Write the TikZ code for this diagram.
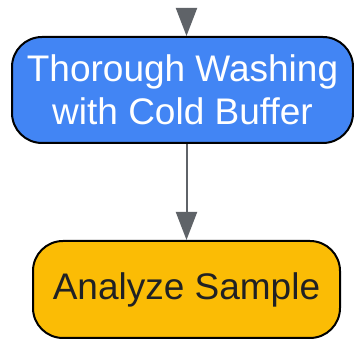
\documentclass[tikz,border=0pt]{standalone}
\usepackage{fontspec}
\setmainfont{Liberation Sans}
\usetikzlibrary{arrows.meta}

\definecolor{washblue}{HTML}{4285F4}
\definecolor{sampleyellow}{HTML}{FBBC05}
\definecolor{flowgrey}{HTML}{5F6368}
\definecolor{inkdark}{HTML}{202124}

\tikzset{
  stepbox/.style={draw=black, line width=2pt, rounded corners=30pt,
    align=center, inner sep=0pt, font=\fontsize{37}{43}\selectfont},
  flow/.style={draw=flowgrey, line width=2pt,
    -{Triangle[length=28pt,width=21pt]}}
}

\begin{document}
\begin{tikzpicture}[x=1pt,y=1pt]
\useasboundingbox (0,0) rectangle (354,339);

\node[stepbox, fill=washblue, text=white, minimum width=341, minimum height=106]
  (wash) at (182.5,249) {Thorough Washing\\with Cold Buffer};
\node[stepbox, fill=sampleyellow, text=inkdark, minimum width=307, minimum height=97]
  (analyze) at (186.5,49.5) {Analyze Sample};

\coordinate (incoming) at (186.5,331);
\draw[flow] (incoming) -- (wash.north -| incoming);
\draw[flow] (wash.south -| analyze.north) -- (analyze.north);
\end{tikzpicture}
\end{document}
